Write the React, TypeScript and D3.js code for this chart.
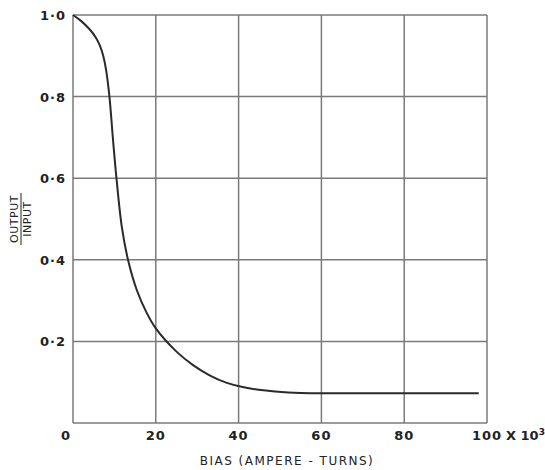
import React from "react";
import * as d3 from "d3";

const biasValues = [0, 2, 4, 5.5, 6.5, 7.3, 8, 8.8, 9.7, 10.5, 11.8, 13.4, 15.4, 17.8, 20, 25, 29, 33, 37, 41, 46, 52, 60, 70, 80, 90, 98];
const ratioValues = [1.0, 0.985, 0.965, 0.945, 0.925, 0.9, 0.865, 0.8, 0.69, 0.6, 0.48, 0.395, 0.326, 0.27, 0.232, 0.175, 0.142, 0.117, 0.099, 0.088, 0.08, 0.075, 0.073, 0.073, 0.073, 0.073, 0.073];
const xTicks = [0, 20, 40, 60, 80, 100];
const yTicks = [0, 0.2, 0.4, 0.6, 0.8, 1.0];
const yTickLabels = ["0", "0·2", "0·4", "0·6", "0·8", "1·0"];
const xTickLabels = ["0", "20", "40", "60", "80", "100"];

export default function App() {
  const W = 545, H = 470;
  const left = 73, right = 487, top = 15, bottom = 423;
  const x = d3.scaleLinear().domain([0, 100]).range([left, right]);
  const y = d3.scaleLinear().domain([0, 1]).range([bottom, top]);
  const pts = biasValues.map((b, i) => [b, ratioValues[i]] as [number, number]);
  const line = d3.line<[number, number]>().x(d => x(d[0])).y(d => y(d[1])).curve(d3.curveCatmullRom.alpha(0.5));
  const font = "'DejaVu Sans', sans-serif";
  const grid = "#7a7a7a";
  return (
    <svg width={W} height={H} style={{ position: "absolute", left: 0, top: 0, background: "#fff" }}>
      {xTicks.map(t => (
        <line key={"gx" + t} x1={x(t)} x2={x(t)} y1={top} y2={bottom} stroke={grid} strokeWidth={1.5} />
      ))}
      {yTicks.map(t => (
        <line key={"gy" + t} x1={left} x2={right} y1={y(t)} y2={y(t)} stroke={grid} strokeWidth={1.5} />
      ))}
      <path d={line(pts) || ""} fill="none" stroke="#2a2a2a" strokeWidth={2} />
      {yTicks.map((t, i) => (
        t === 0 ? null :
        <text key={"yl" + t} x={66} y={y(t) + 5} textAnchor="end" fontFamily={font} fontWeight="bold" fontSize={13} letterSpacing={1} fill="#222">{yTickLabels[i]}</text>
      ))}
      {xTicks.map((t, i) => (
        <text key={"xl" + t} x={t === 0 ? 66 : x(t)} y={440} textAnchor="middle" fontFamily={font} fontWeight="bold" fontSize={13} letterSpacing={1} fill="#222">{xTickLabels[i]}</text>
      ))}
      <text x={x(100) + 19} y={440} fontFamily={font} fontWeight="bold" fontSize={13} fill="#222">X 10<tspan dy={-5} fontSize={9}>3</tspan></text>
      <text x={287} y={465} textAnchor="middle" fontFamily={font} fontSize={12} letterSpacing={1.5} fill="#222">BIAS (AMPERE - TURNS)</text>
      <g transform="translate(21,219) rotate(-90)">
        <text x={0} y={-3} textAnchor="middle" fontFamily={font} fontSize={11} letterSpacing={0.5} fill="#222">OUTPUT</text>
        <line x1={-26} x2={26} y1={0} y2={0} stroke="#222" strokeWidth={1} />
        <text x={0} y={10} textAnchor="middle" fontFamily={font} fontSize={11} letterSpacing={0.5} fill="#222">INPUT</text>
      </g>
    </svg>
  );
}
